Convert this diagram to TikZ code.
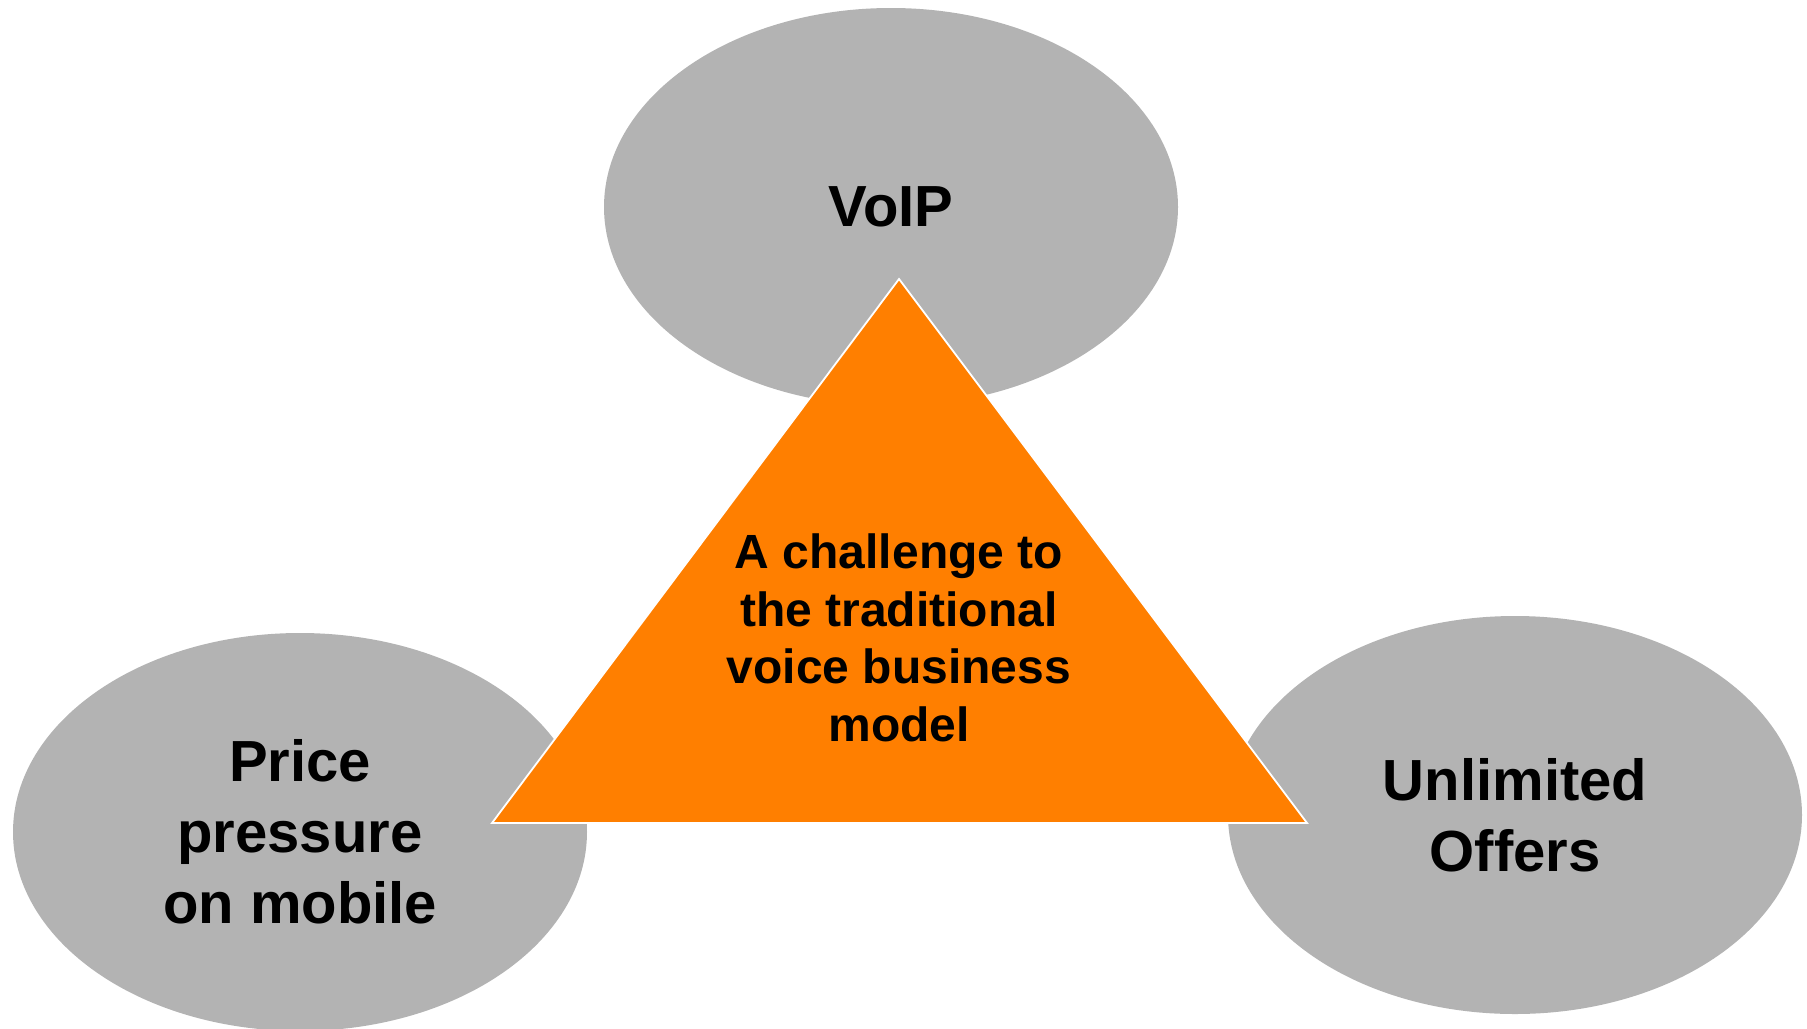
\documentclass[tikz,border=0pt]{standalone}
\usepackage{fontspec}
\setmainfont{Liberation Sans}
\usetikzlibrary{shapes.geometric}
\definecolor{bubblegray}{RGB}{179,179,179}
\definecolor{challengeorange}{RGB}{255,127,0}
\begin{document}
	\begin{tikzpicture}[x=1pt, y=-1pt, align=center,
		bubble/.style={ellipse, fill=bubblegray, inner sep=0pt, minimum width=574pt, minimum height=398pt, font=\fontsize{58}{71}\selectfont\bfseries},
		core/.style={fill=challengeorange, draw=white, line width=1.8pt, line join=miter}]
		\useasboundingbox (0,0) rectangle (1807,1028);
		\node[bubble] (voip) at (891,207) {VoIP};
		\node[bubble] (price) at (300,832) {Price\\pressure\\on mobile};
		\node[bubble] (unlim) at (1515,815) {Unlimited\\Offers};
		\coordinate (top) at (899,279);
		\coordinate (bl) at (492,823);
		\coordinate (br) at (1307,823);
		\draw[core] (top) -- (br) -- (bl) -- cycle;
		\node[font=\fontsize{48}{57.6}\selectfont\bfseries] (model) at (899,638) {A challenge to\\the traditional\\voice business\\model};
	\end{tikzpicture}
\end{document}
